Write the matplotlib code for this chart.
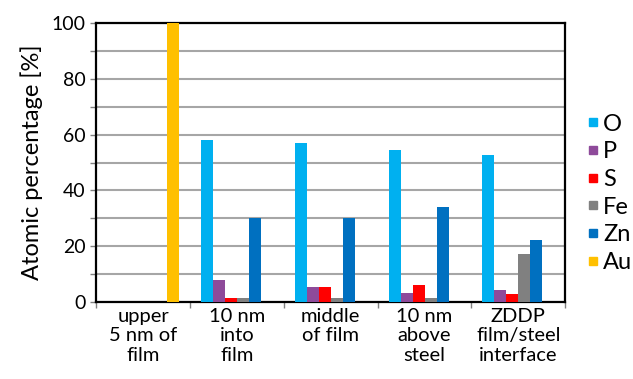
import numpy as np
import matplotlib.pyplot as plt
from matplotlib.lines import Line2D

plt.rcParams['font.family'] = ['Lato', 'DejaVu Sans']

# Categories (depth positions) and element percentages
categories = ['upper\n5 nm of\nfilm', '10 nm\ninto\nfilm', 'middle\nof film',
              '10 nm\nabove\nsteel', 'ZDDP\nfilm/steel\ninterface']
elements = ['O', 'P', 'S', 'Fe', 'Zn', 'Au']
O = [0, 58, 57, 54.5, 52.7]
P = [0, 8, 5.5, 3.3, 4.2]
S = [0, 1.6, 5.5, 6, 3]
Fe = [0, 1.3, 1.3, 1.3, 17.2]
Zn = [0, 30, 30, 34.2, 22.3]
Au = [100, 0, 0, 0, 0]
colors = ['#00B0F0', '#8E4A9A', '#FF0000', '#808080', '#0070C0', '#FFC000']

series = [O, P, S, Fe, Zn, Au]

fig = plt.figure(figsize=(6.33, 3.79), dpi=100)
ax = fig.add_axes([0.152, 0.203, 0.741, 0.736])

x = np.arange(len(categories))
w = 0.128
for i, (vals, c) in enumerate(zip(series, colors)):
    offs = (i - 2.5) * w
    ax.bar(x + offs, vals, width=w, color=c, zorder=3)

ax.set_xlim(-0.5, len(categories) - 0.5)
ax.set_ylim(0, 100)
ax.set_yticks(np.arange(0, 101, 20))
ax.set_yticks(np.arange(0, 101, 10), minor=True)
ax.tick_params(axis='y', which='both', length=4, width=1, color='#808080', labelsize=14)
ax.grid(axis='y', which='both', color='#A6A6A6', linewidth=1.5, zorder=0)

# category labels between tick marks at boundaries
ax.set_xticks(np.arange(-0.5, len(categories), 1.0))
ax.set_xticklabels([])
ax.tick_params(axis='x', length=4, width=1, color='#808080')
ax.set_xticks(x, minor=True)
ax.set_xticklabels(categories, minor=True, fontsize=14.5, linespacing=1.2)
ax.tick_params(axis='x', which='minor', length=0, pad=4)

for sp in ax.spines.values():
    sp.set_linewidth(1.6)
    sp.set_color('black')

ax.set_ylabel('Atomic percentage [%]', fontsize=17, labelpad=6)

handles = [Line2D([], [], marker='s', linestyle='none', markersize=6,
                  markerfacecolor=c, markeredgecolor=c) for c in colors]
fig.legend(handles, elements, loc='center left', bbox_to_anchor=(0.927, 0.49),
           frameon=False, fontsize=17, handlelength=0.5,
           handletextpad=0.2, labelspacing=0.28, borderpad=0, borderaxespad=0)

fig.savefig('out.png', dpi=100)
